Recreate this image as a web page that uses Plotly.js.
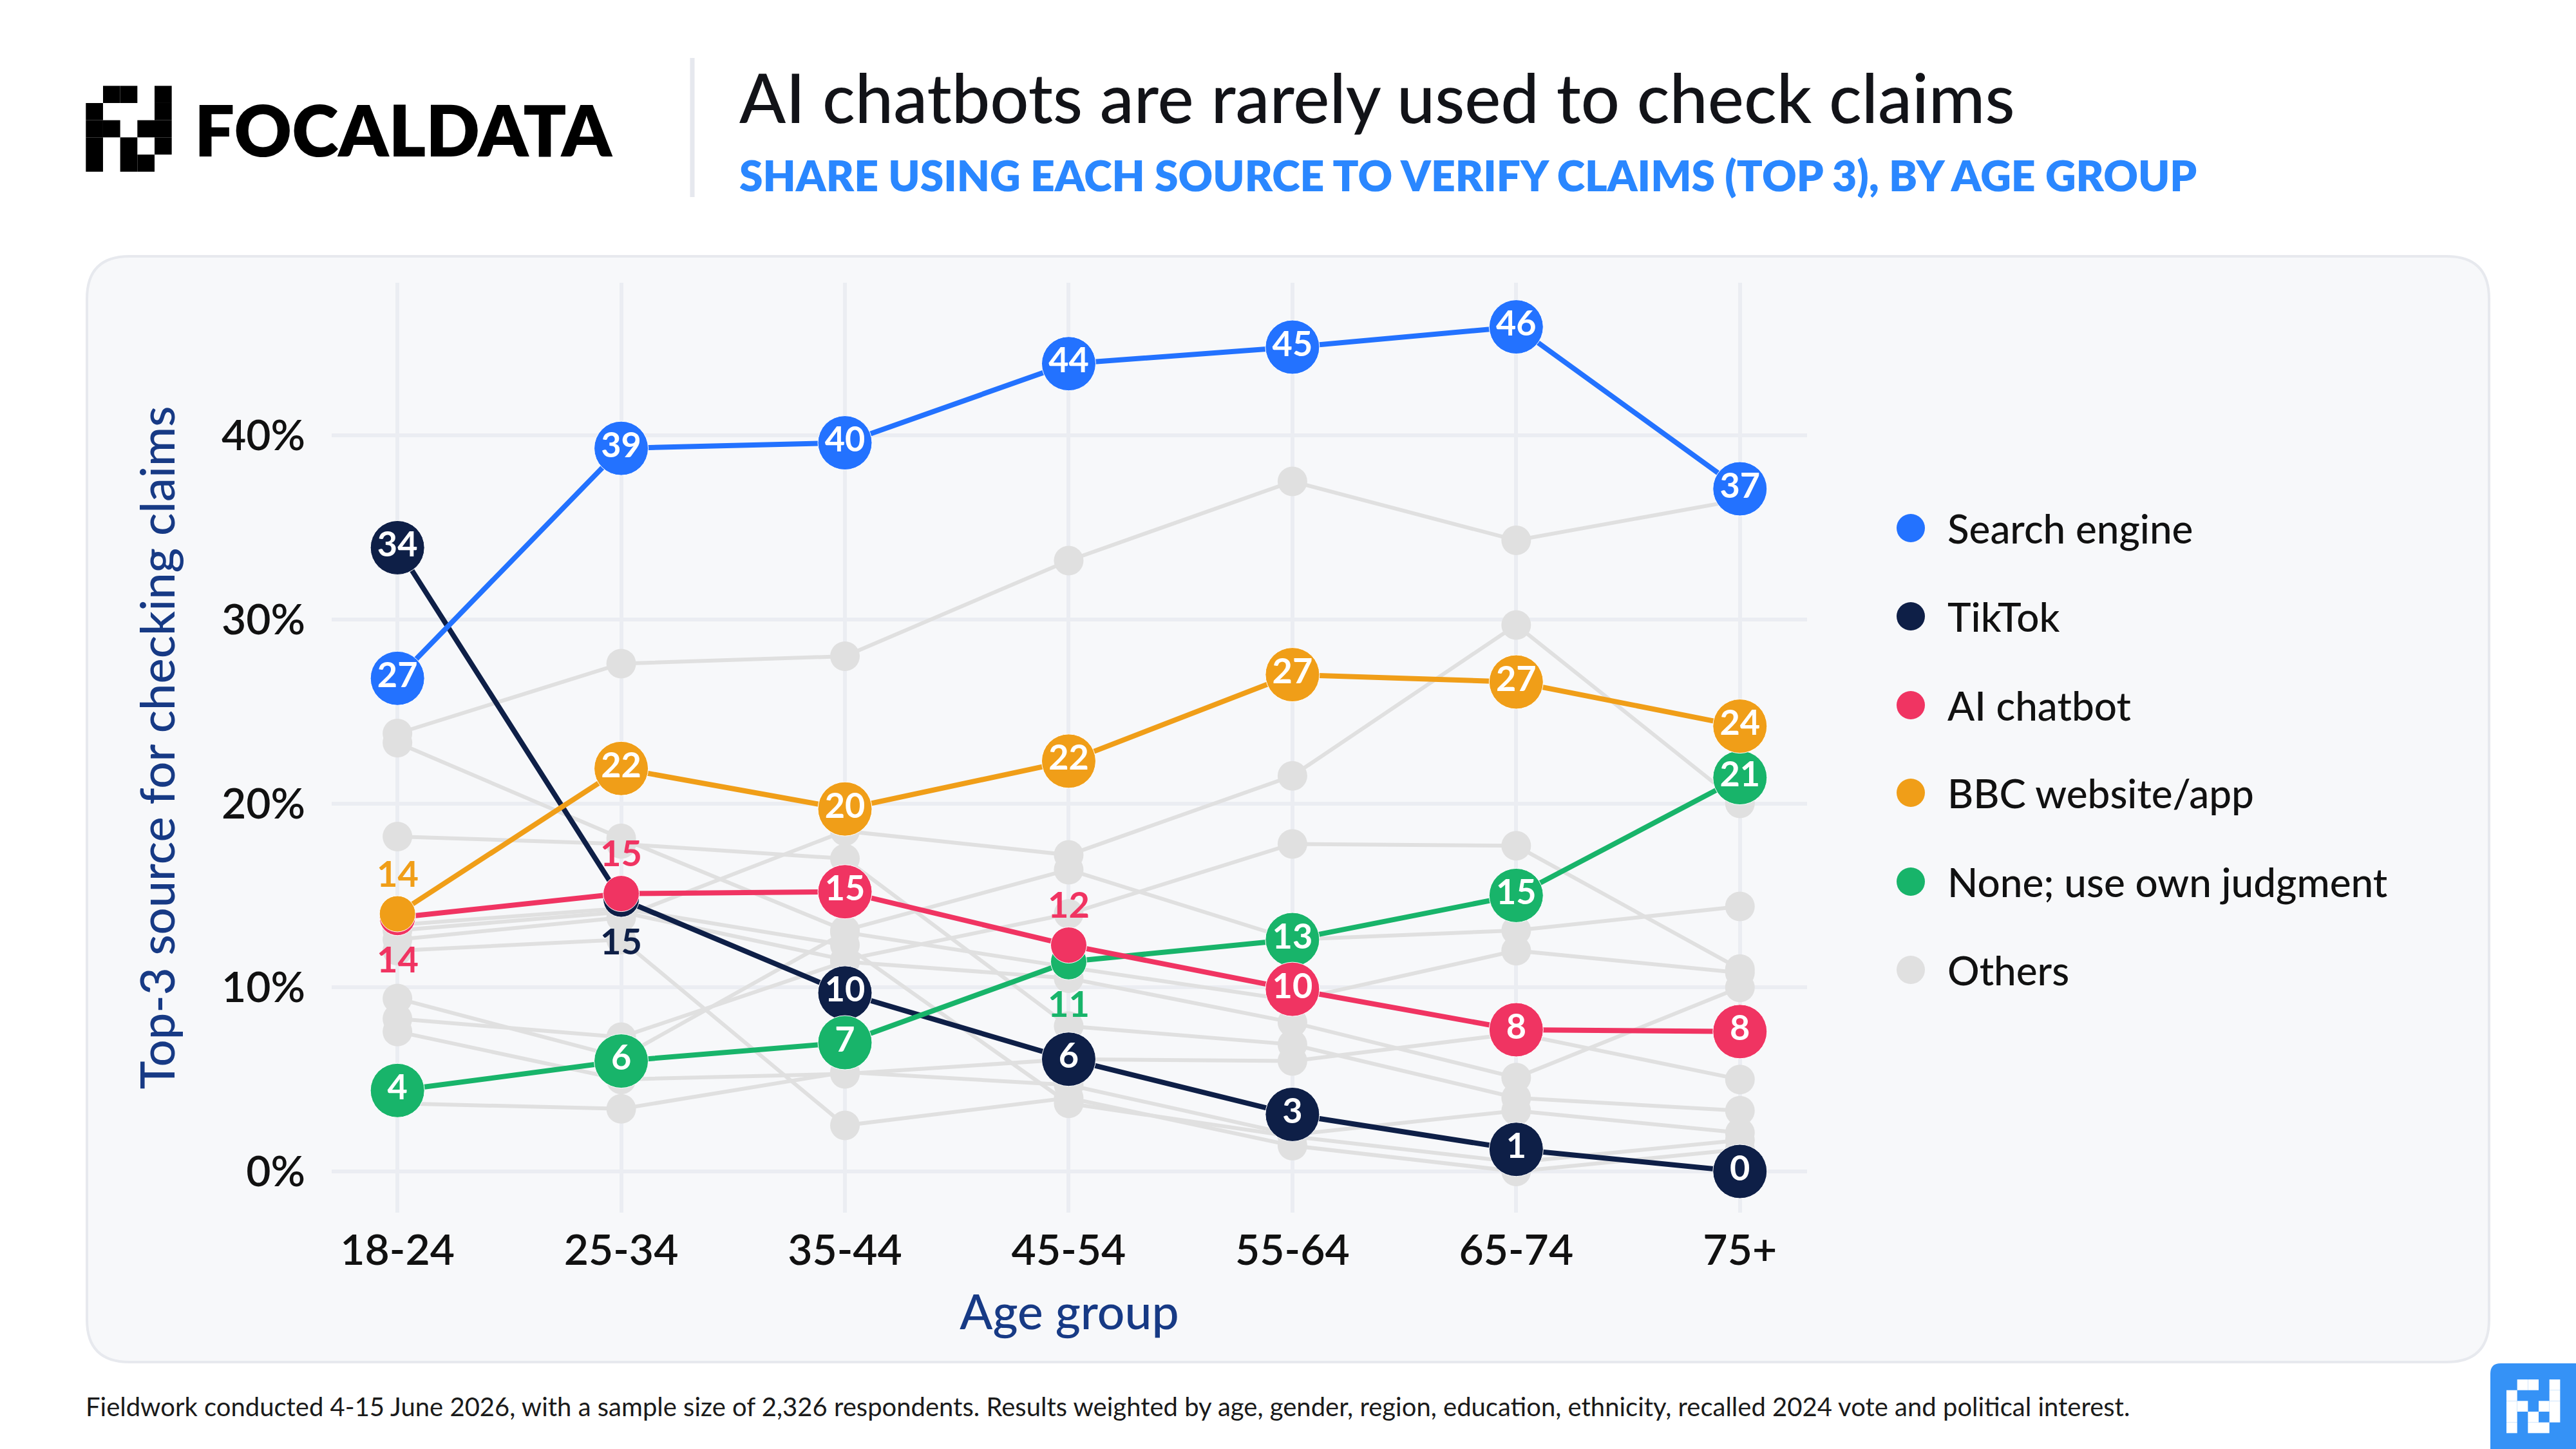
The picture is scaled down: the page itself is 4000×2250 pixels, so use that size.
<!DOCTYPE html>
<html>
<head>
<meta charset="utf-8">
<script src="https://cdn.plot.ly/plotly-3.0.1.min.js"></script>
<style>
  html, body { margin: 0; padding: 0; background: #ffffff; }
  #chart { width: 4000px; height: 2250px; }
</style>
</head>
<body>
<div id="chart"></div>
<script>
// ---------------- DATA ----------------
const ageGroups = ['18-24', '25-34', '35-44', '45-54', '55-64', '65-74', '75+'];

const searchEngine = [26.8, 39.3, 39.6, 43.9, 44.8, 45.9, 37.1];
const tiktok       = [33.9, 14.8, 9.7, 6.1, 3.1, 1.2, 0.0];
const aiChatbot    = [13.8, 15.1, 15.2, 12.3, 9.9, 7.7, 7.6];
const bbcWebsite   = [14.0, 21.9, 19.7, 22.3, 27.0, 26.6, 24.2];
const noneOwn      = [4.4, 6.0, 7.0, 11.4, 12.6, 15.0, 21.4];

// "Others" series (grey background lines)
const other01 = [23.8, 27.6, 28.0, 33.2, 37.5, 34.3, 36.5];
const other02 = [23.3, 18.1, 13.1, 16.4, 12.6, 13.1, 14.4];
const other03 = [12.6, 13.8, 18.5, 17.2, 21.5, 29.7, 20.0];
const other04 = [18.2, 17.8, 17.0, 7.9, 6.9, 4.0, 3.3];
const other05 = [13.1, 14.1, 11.5, 14.0, 17.8, 17.7, 11.0];
const other06 = [12.0, 12.6, 2.5, 4.0, 1.4, 0.0, 1.2];
const other07 = [9.4, 6.2, 13.0, 11.1, 9.3, 12.0, 10.8];
const other08 = [8.3, 7.3, 11.4, 10.5, 8.1, 5.1, 10.0];
const other09 = [7.6, 5.0, 5.3, 6.1, 6.0, 7.5, 5.0];
const other10 = [3.7, 3.4, 5.4, 4.7, 2.0, 3.3, 2.1];
const other11 = [13.4, 14.3, 12.3, 3.7, 1.9, 0.5, 1.7];
const othersList = [other01, other02, other03, other04, other05, other06,
                    other07, other08, other09, other10, other11];

const yTickVals = [0, 10, 20, 30, 40];
const yTickText = ['0%', '10%', '20%', '30%', '40%'];

const seriesNames  = ['Search engine', 'TikTok', 'AI chatbot', 'BBC website/app', 'None; use own judgment', 'Others'];
const seriesColors = ['#2372FF', '#0E1F47', '#F03462', '#F09E18', '#18B46A', '#E0E0E0'];

// points whose labels sit outside the marker (overlapping points)
const outsideLabels = [
  { series: 3, index: 0, pos: 'above' },
  { series: 2, index: 0, pos: 'below' },
  { series: 2, index: 1, pos: 'above' },
  { series: 1, index: 1, pos: 'below' },
  { series: 2, index: 3, pos: 'above' },
  { series: 4, index: 3, pos: 'below' }
];

const titleText    = 'AI chatbots are rarely used to check claims';
const subtitleText = 'SHARE USING EACH SOURCE TO VERIFY CLAIMS (TOP 3), BY AGE GROUP';
const xTitle = 'Age group';
const yTitle = 'Top-3 source for checking claims';
const footerText = 'Fieldwork conducted 4-15 June 2026, with a sample size of 2,326 respondents. Results weighted by age, gender, region, education, ethnicity, recalled 2024 vote and political interest.';
const brandText = 'FOCALDATA';
// logo pixel pattern (5x5)
const logoGrid = [
  [0,1,1,0,1],
  [1,0,0,0,1],
  [1,1,0,1,1],
  [1,0,1,0,1],
  [1,0,1,1,0]
];

// ---------------- LAYOUT HELPERS ----------------
const FONT = 'Lato, "Open Sans", sans-serif';
const PL = 515, PT = 439, PW = 2291, PH = 1444;
const px = x => (x - PL) / PW;
const py = y => 1 - (y - PT) / PH;

function roundRectPath(x0, y0, x1, y1, r) {
  return 'M ' + px(x0 + r) + ',' + py(y0) +
    ' L ' + px(x1 - r) + ',' + py(y0) +
    ' Q ' + px(x1) + ',' + py(y0) + ' ' + px(x1) + ',' + py(y0 + r) +
    ' L ' + px(x1) + ',' + py(y1 - r) +
    ' Q ' + px(x1) + ',' + py(y1) + ' ' + px(x1 - r) + ',' + py(y1) +
    ' L ' + px(x0 + r) + ',' + py(y1) +
    ' Q ' + px(x0) + ',' + py(y1) + ' ' + px(x0) + ',' + py(y1 - r) +
    ' L ' + px(x0) + ',' + py(y0 + r) +
    ' Q ' + px(x0) + ',' + py(y0) + ' ' + px(x0 + r) + ',' + py(y0) + ' Z';
}

// ---------------- TRACES ----------------
const traces = [];
othersList.forEach(vals => {
  traces.push({
    type: 'scatter', mode: 'lines+markers',
    x: ageGroups, y: vals,
    line: { color: seriesColors[5], width: 6 },
    marker: { color: seriesColors[5], size: 46, opacity: 1 },
    showlegend: false, hoverinfo: 'skip', cliponaxis: false
  });
});

const mainSeries = [searchEngine, tiktok, aiChatbot, bbcWebsite, noneOwn];
const drawOrder = [1, 4, 2, 3, 0]; // TikTok, None, AI, BBC, Search
drawOrder.forEach(si => {
  const vals = mainSeries[si];
  const isOutside = i => outsideLabels.some(o => o.series === si && o.index === i);
  traces.push({
    type: 'scatter', mode: 'lines+markers+text',
    name: seriesNames[si],
    x: ageGroups, y: vals,
    text: vals.map((v, i) => isOutside(i) ? '' : String(Math.round(v))),
    textposition: 'middle center',
    textfont: { family: FONT, size: 54, color: '#ffffff', weight: 700 },
    line: { color: seriesColors[si], width: 8 },
    marker: { color: seriesColors[si], opacity: 1, size: vals.map((v, i) => isOutside(i) ? 56 : 84) },
    showlegend: false, hoverinfo: 'skip', cliponaxis: false
  });
});

// ---------------- ANNOTATIONS ----------------
const annotations = [];
outsideLabels.forEach(o => {
  const v = mainSeries[o.series][o.index];
  annotations.push({
    x: ageGroups[o.index], y: v, xref: 'x', yref: 'y',
    text: String(Math.round(v)), showarrow: false,
    yshift: o.pos === 'above' ? 64 : -64,
    font: { family: FONT, size: 56, color: seriesColors[o.series], weight: 700 }
  });
});

// header
annotations.push({
  xref: 'paper', yref: 'paper', x: px(1146), y: py(150), xanchor: 'left', yanchor: 'middle',
  text: titleText, showarrow: false,
  font: { family: FONT, size: 106, color: '#121318', weight: 500 }
});
annotations.push({
  xref: 'paper', yref: 'paper', x: px(1146), y: py(271), xanchor: 'left', yanchor: 'middle',
  text: subtitleText, showarrow: false,
  font: { family: FONT, size: 66, color: '#2A87FF', weight: 800 }
});
annotations.push({
  xref: 'paper', yref: 'paper', x: px(300), y: py(200), xanchor: 'left', yanchor: 'middle',
  text: brandText, showarrow: false,
  font: { family: FONT, size: 110, color: '#000000', weight: 800 }
});
// footer
annotations.push({
  xref: 'paper', yref: 'paper', x: px(131), y: py(2184), xanchor: 'left', yanchor: 'middle',
  text: footerText, showarrow: false,
  font: { family: FONT, size: 40, color: '#1a1a1a', weight: 400 }
});

// custom legend
const legendY = [820, 957, 1095, 1231, 1369, 1506];
const shapes = [];
seriesNames.forEach((name, i) => {
  annotations.push({
    xref: 'paper', yref: 'paper', x: px(3022), y: py(legendY[i]), xanchor: 'left', yanchor: 'middle',
    text: name, showarrow: false,
    font: { family: FONT, size: 62, color: '#111111', weight: 500 }
  });
  shapes.push({
    type: 'circle', xref: 'paper', yref: 'paper',
    xsizemode: 'pixel', ysizemode: 'pixel',
    xanchor: px(2967), yanchor: py(legendY[i]),
    x0: -22, x1: 22, y0: -22, y1: 22,
    fillcolor: seriesColors[i], line: { width: 0 }, layer: 'above'
  });
});

// panel background
shapes.push({
  type: 'path', xref: 'paper', yref: 'paper', layer: 'below',
  path: roundRectPath(135, 398, 3865, 2115, 66),
  fillcolor: '#F7F8FA', line: { color: '#E7E9EE', width: 4 }
});
// header separator
shapes.push({
  type: 'line', xref: 'paper', yref: 'paper', layer: 'above',
  x0: px(1075), x1: px(1075), y0: py(90), y1: py(306),
  line: { color: '#E6E8EE', width: 7 }
});
// top-left logo
const cellA = 26.67, ox = 133.3, oy = 133.3;
logoGrid.forEach((row, r) => row.forEach((c, k) => {
  if (c) shapes.push({
    type: 'rect', xref: 'paper', yref: 'paper', layer: 'above',
    x0: px(ox + k * cellA), x1: px(ox + (k + 1) * cellA),
    y0: py(oy + r * cellA), y1: py(oy + (r + 1) * cellA),
    fillcolor: '#000000', line: { width: 0 }
  });
}));
// bottom-right badge
shapes.push({
  type: 'path', xref: 'paper', yref: 'paper', layer: 'above',
  path: roundRectPath(3867, 2117, 4030, 2280, 16),
  fillcolor: '#3592F6', line: { width: 0 }
});
const cellB = 16.67, bx = 3892, by = 2142;
logoGrid.forEach((row, r) => row.forEach((c, k) => {
  if (c) shapes.push({
    type: 'rect', xref: 'paper', yref: 'paper', layer: 'above',
    x0: px(bx + k * cellB), x1: px(bx + (k + 1) * cellB),
    y0: py(by + r * cellB), y1: py(by + (r + 1) * cellB),
    fillcolor: '#ffffff', line: { width: 0 }
  });
}));

// ---------------- LAYOUT ----------------
const layout = {
  width: 4000, height: 2250,
  margin: { l: PL, r: 4000 - PL - PW, t: PT, b: 2250 - PT - PH, pad: 0 },
  paper_bgcolor: '#ffffff',
  plot_bgcolor: 'rgba(0,0,0,0)',
  showlegend: false,
  font: { family: FONT, color: '#111111' },
  xaxis: {
    type: 'category', range: [-0.294, 6.30], fixedrange: true,
    showgrid: true, gridcolor: '#EBEDF2', gridwidth: 6,
    zeroline: false, showline: false, ticks: '',
    ticklabelstandoff: 14, automargin: false,
    tickfont: { family: FONT, size: 66, color: '#111111', weight: 600 },
    title: { text: xTitle, standoff: 34, font: { family: FONT, size: 75, color: '#173A85', weight: 500 } }
  },
  yaxis: {
    range: [-2.24, 48.3], fixedrange: true,
    tickmode: 'array', tickvals: yTickVals, ticktext: yTickText,
    showgrid: true, gridcolor: '#EBEDF2', gridwidth: 6,
    zeroline: false, showline: false, ticks: '',
    ticklabelstandoff: 40, automargin: false,
    tickfont: { family: FONT, size: 66, color: '#111111', weight: 600 },
    title: { text: yTitle, standoff: 48, font: { family: FONT, size: 74, color: '#173A85', weight: 500 } }
  },
  annotations: annotations,
  shapes: shapes
};

Plotly.newPlot('chart', traces, layout, { displayModeBar: false, staticPlot: true });
</script>
</body>
</html>
